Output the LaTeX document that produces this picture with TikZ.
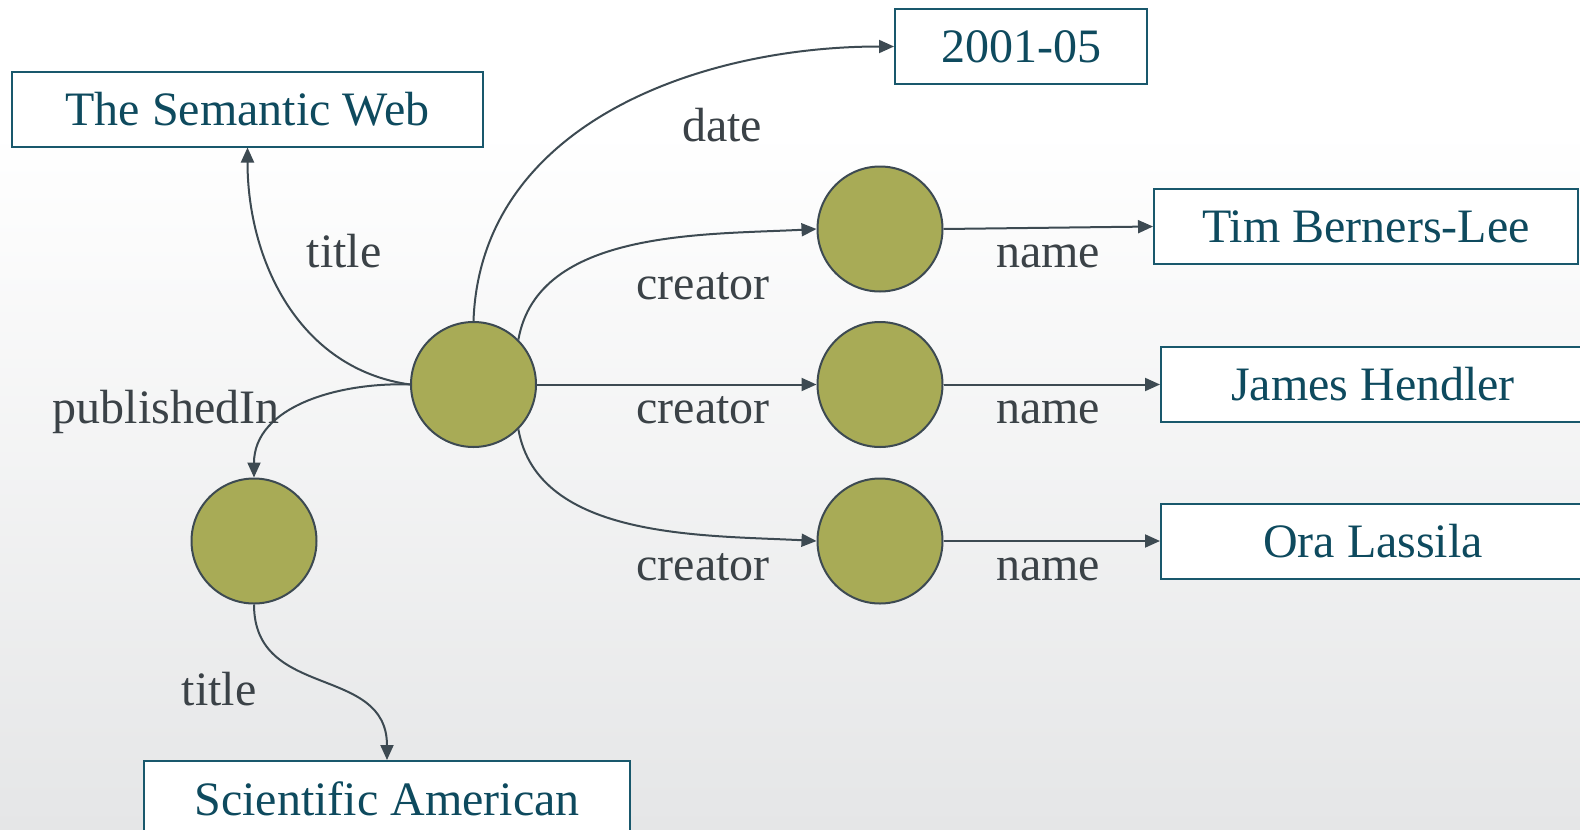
\documentclass[tikz,border=0pt]{standalone}
\usepackage{fontspec}
\setmainfont{Liberation Serif}
\usetikzlibrary{arrows.meta}
\definecolor{boxline}{RGB}{25,88,108}
\definecolor{boxtext}{RGB}{14,74,94}
\definecolor{labeltext}{RGB}{59,66,71}
\definecolor{linkgray}{RGB}{61,74,82}
\definecolor{blanknode}{RGB}{168,171,86}
\definecolor{bgbottom}{RGB}{229,230,231}

\begin{document}
\begin{tikzpicture}[x=1pt,y=1pt,
  every node/.style={font=\fontsize{48}{56}\selectfont},
  literal/.style={draw=boxline, line width=2pt, fill=white, text=boxtext,
    inner sep=0pt, minimum height=75pt, text height=32pt, text depth=0pt},
  resource/.style={circle, draw=linkgray, line width=2pt, fill=blanknode,
    minimum size=125pt, inner sep=0pt},
  prop/.style={text=labeltext, anchor=base, inner sep=0pt},
  link/.style={draw=linkgray, line width=2pt, -{Triangle[length=15pt,width=13pt]}}
]
% canvas and background gradient
\useasboundingbox (0,0) rectangle (1580,-830);
\fill[white] (0,0) rectangle (1580,-130);
\shade[top color=white, bottom color=bgbottom] (0,-130) rectangle (1580,-830);
\clip (0,0) rectangle (1580,-830);

% literal values
\node[literal, minimum width=471pt] (sw)   at (247.5,-109)  {The Semantic Web};
\node[literal, minimum width=252pt] (date) at (1021,-46.5)  {2001-05};
\node[literal, minimum width=424pt] (tbl)  at (1366,-226.5) {Tim Berners-Lee};
\node[literal, minimum width=424pt] (jh)   at (1373,-384.5) {James Hendler};
\node[literal, minimum width=424pt] (ol)   at (1373,-541)   {Ora Lassila};
\node[literal, minimum width=486pt, minimum height=76pt] (sa) at (387,-799) {Scientific American};

% blank nodes
\node[resource] (paper) at (473.5,-384.5) {};
\node[resource] (c1)    at (880,-229)     {};
\node[resource] (c2)    at (880,-384.5)   {};
\node[resource] (c3)    at (880,-541)     {};
\node[resource] (mag)   at (254,-541)     {};

% properties
\draw[link] (paper.north) to[out=88,in=180] (date.west);
\draw[link] (paper.west) to[out=172,in=-90] (sw.south);
\draw[link] (paper.west) to[out=178,in=90] (mag.north);
\draw[link] (paper.45) to[out=80,in=183,looseness=0.9] (c1.west);
\draw[link] (paper.east) -- (c2.west);
\draw[link] (paper.-45) to[out=-80,in=177,looseness=0.9] (c3.west);
\draw[link] (c1.east) -- (tbl.west);
\draw[link] (c2.east) -- (jh.west);
\draw[link] (c3.east) -- (ol.west);
\draw[link] (mag.south) to[out=-90,in=90,looseness=1.2] (sa.north);

% property labels
\node[prop] (l-date)  at (722,-141)  {date};
\node[prop] (l-title) at (344,-267)  {title};
\node[prop] (l-cr1)   at (703,-299)  {creator};
\node[prop] (l-nm1)   at (1048,-267) {name};
\node[prop] (l-pub)   at (166,-423)  {publishedIn};
\node[prop] (l-cr2)   at (703,-423)  {creator};
\node[prop] (l-nm2)   at (1048,-423) {name};
\node[prop] (l-cr3)   at (703,-580)  {creator};
\node[prop] (l-nm3)   at (1048,-580) {name};
\node[prop] (l-ttl2)  at (219,-705)  {title};
\end{tikzpicture}
\end{document}
